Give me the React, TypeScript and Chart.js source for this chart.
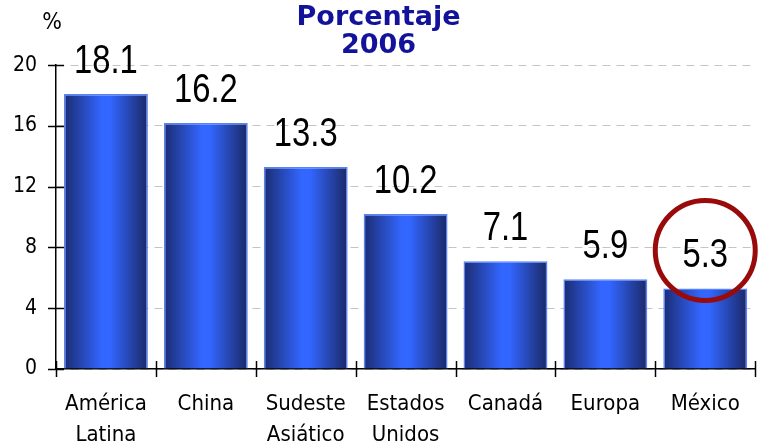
import React, { useEffect, useRef } from "react";
import { Chart, registerables } from "chart.js";

Chart.register(...registerables);

const categories: string[][] = [
  ["América", "Latina"],
  ["China"],
  ["Sudeste", "Asiático"],
  ["Estados", "Unidos"],
  ["Canadá"],
  ["Europa"],
  ["México"],
];
const values: number[] = [18.1, 16.2, 13.3, 10.2, 7.1, 5.9, 5.3];
const valueLabels: string[] = ["18.1", "16.2", "13.3", "10.2", "7.1", "5.9", "5.3"];
const titleLines: string[] = ["Porcentaje", "2006"];
const unitLabel = "%";
const highlightIndex = 6;

const BAR_PCT = 0.84;
const AXIS_FONT = "'DejaVu Sans Condensed', 'DejaVu Sans', sans-serif";

const overlayPlugin = {
  id: "overlay",
  afterDraw(chart: any) {
    const { ctx, chartArea } = chart;
    const xs = chart.scales.x;
    const ys = chart.scales.y;
    ctx.save();
    ctx.strokeStyle = "#000";
    ctx.lineWidth = 1.5;
    ys.ticks.forEach((t: any) => {
      const py = Math.round(ys.getPixelForValue(t.value)) + 0.5;
      ctx.beginPath();
      ctx.moveTo(chartArea.left - 8, py);
      ctx.lineTo(chartArea.left + 8, py);
      ctx.stroke();
    });
    const n = categories.length;
    for (let k = 0; k <= n; k++) {
      const px = Math.round(xs.getPixelForValue(k - 0.5)) + 0.5;
      ctx.beginPath();
      ctx.moveTo(px, chartArea.bottom - 8);
      ctx.lineTo(px, chartArea.bottom + 8);
      ctx.stroke();
    }
    // unit label
    ctx.fillStyle = "#000";
    ctx.font = `23px ${AXIS_FONT}`;
    ctx.textAlign = "center";
    ctx.textBaseline = "middle";
    ctx.fillText(unitLabel, chartArea.left - 4, chartArea.top - 42);

    // value labels (narrow)
    ctx.font = "41px 'Liberation Sans', Arial, sans-serif";
    ctx.textAlign = "center";
    ctx.textBaseline = "alphabetic";
    const meta = chart.getDatasetMeta(0);
    meta.data.forEach((bar: any, i: number) => {
      const top = ys.getPixelForValue(values[i]);
      ctx.save();
      ctx.translate(bar.x, top - 21);
      ctx.scale(0.8, 1);
      ctx.fillStyle = "#000";
      ctx.fillText(valueLabels[i], 0, 0);
      ctx.restore();
      if (i === highlightIndex) {
        ctx.beginPath();
        ctx.strokeStyle = "#990a0a";
        ctx.lineWidth = 5;
        ctx.arc(bar.x, top - 38, 50, 0, Math.PI * 2);
        ctx.stroke();
      }
    });
    ctx.restore();
  },
};

export default function App() {
  const ref = useRef<HTMLCanvasElement | null>(null);
  useEffect(() => {
    document.body.style.margin = "0";
    const canvas = ref.current;
    if (!canvas) return;
    const chart = new Chart(canvas, {
      type: "bar",
      data: {
        labels: categories as any,
        datasets: [
          {
            data: values,
            backgroundColor: (c: any) => {
              const ch = c.chart;
              const area = ch.chartArea;
              const xs = ch.scales?.x;
              if (!area || !xs || c.dataIndex === undefined) return "#3366ff";
              const cx = xs.getPixelForValue(c.dataIndex);
              const w = ((area.right - area.left) / categories.length) * BAR_PCT;
              const g = ch.ctx.createLinearGradient(cx - w / 2, 0, cx + w / 2, 0);
              g.addColorStop(0, "#1b2c72");
              g.addColorStop(0.45, "#3366ff");
              g.addColorStop(0.55, "#3366ff");
              g.addColorStop(1, "#1a2866");
              return g;
            },
            borderColor: "#5583ff",
            borderWidth: 1.5,
            barPercentage: BAR_PCT,
            categoryPercentage: 1,
          },
        ],
      },
      options: {
        animation: false,
        responsive: false,
        maintainAspectRatio: false,
        layout: { padding: { left: 0, right: 3, top: 0, bottom: 0 } },
        plugins: {
          legend: { display: false },
          tooltip: { enabled: false },
          title: {
            display: true,
            text: titleLines,
            color: "#12129a",
            font: { family: "'DejaVu Sans', sans-serif", size: 27, weight: "bold", lineHeight: 1.04 },
            padding: { top: 4, bottom: 5 },
          },
        },
        scales: {
          x: {
            grid: { display: false, drawTicks: false },
            border: { display: true, color: "#000", width: 1.5 },
            ticks: {
              color: "#000",
              font: { family: AXIS_FONT, size: 22, lineHeight: 1.4 },
              padding: 20,
              maxRotation: 0,
              autoSkip: false,
            },
            afterFit: (s: any) => {
              s.height = 77;
            },
          },
          y: {
            min: 0,
            max: 20,
            ticks: {
              stepSize: 4,
              color: "#000",
              font: { family: AXIS_FONT, size: 21 },
              padding: 19,
            },
            grid: { color: "#c4c4c4", lineWidth: 1, drawTicks: false },
            border: { display: true, color: "#000", width: 1.5, dash: [8, 6] },
            afterFit: (s: any) => {
              s.width = 56;
            },
          },
        },
      },
      plugins: [overlayPlugin],
    });
    return () => chart.destroy();
  }, []);
  return (
    <div style={{ width: 760, height: 446 }}>
      <canvas ref={ref} width={760} height={446} style={{ width: 760, height: 446, display: "block" }} />
    </div>
  );
}
